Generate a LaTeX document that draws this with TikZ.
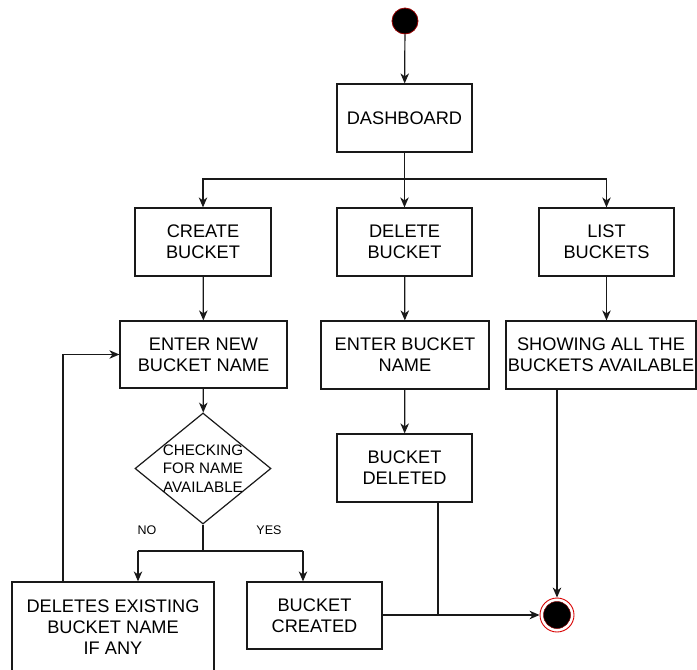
\documentclass[tikz,border=0pt]{standalone}
\usepackage{fontspec}
\setmainfont{Liberation Sans}
\usepackage{tikz}
\usetikzlibrary{shapes.geometric, arrows.meta, calc}

\begin{document}
\begin{tikzpicture}[
    x=1pt, y=-1pt,
    font=\fontsize{18.2}{21}\selectfont,
    box/.style={draw=black!90, line width=1.2pt, minimum width=135pt, minimum height=68pt, inner sep=0pt, align=center},
    decision/.style={diamond, draw=black!90, line width=1.2pt, minimum width=136pt, minimum height=111pt, inner sep=0pt},
    startstate/.style={circle, fill=black, draw=red!60!black, line width=0.8pt, minimum size=26pt, inner sep=0pt},
    endstate/.style={circle, fill=white, draw=red!85!black, line width=0.9pt, minimum size=34pt, inner sep=0pt},
    lbl/.style={font=\fontsize{12.5}{14}\selectfont},
    line/.style={draw=black!90, line width=1.2pt},
    arr/.style={line, -{Stealth[length=10pt,width=8.5pt,inset=3pt]}}
]
    \useasboundingbox (0,0) rectangle (697,670);

    % states
    \node[startstate] (start) at (405,21) {};
    \node[endstate] (endc) at (557,615) {};
    \fill[black, draw=red!50!black, line width=0.5pt] (endc.center) circle (13.5);

    % main boxes
    \node[box] (dash) at (404.5,118) {DASHBOARD};
    \node[box, minimum width=136pt] (create) at (203,242) {CREATE\\BUCKET};
    \node[box] (delete) at (404.5,242) {DELETE\\BUCKET};
    \node[box] (list) at (606.5,242) {LIST\\BUCKETS};
    \node[box, minimum width=167pt, minimum height=67pt] (enternew) at (203.5,354.5) {ENTER NEW\\BUCKET NAME};
    \node[box, minimum width=168pt] (entername) at (405,355) {ENTER BUCKET\\NAME};
    \node[box, minimum width=190pt] (showing) at (601,355) {SHOWING ALL THE\\BUCKETS AVAILABLE};
    \node[decision, label={[font=\fontsize{15.2}{18.5}\selectfont, align=center]center:{CHECKING\\FOR NAME\\AVAILABLE}}] (check) at (203,468.5) {};
    \node[box] (deleted) at (404.5,468) {BUCKET\\DELETED};
    \node[box, minimum width=202pt, minimum height=90pt] (deletes) at (113,627) {DELETES EXISTING\\BUCKET NAME\\IF ANY};
    \node[box, minimum height=67pt] (created) at (314.5,615.5) {BUCKET\\CREATED};

    \node[lbl] (no) at (147,530) {NO};
    \node[lbl] (yes) at (269,530) {YES};

    % joints
    \coordinate (fork) at (404.5,179);
    \coordinate (split) at (203,551);
    \coordinate (noin) at (138,551);
    \coordinate (yesin) at (303,551);
    \coordinate (loop) at (63,354.5);
    \coordinate (join) at (438,615);

    % connectors
    \draw[arr] (start) -- (dash);
    \draw[line] (dash) -- (fork);
    \draw[arr] (fork) -| (create);
    \draw[arr] (fork) -- (delete);
    \draw[arr] (fork) -| (list);
    \draw[arr] (create) -- (enternew);
    \draw[arr] (delete) -- (entername);
    \draw[arr] (list) -- (list |- showing.north);
    \draw[arr] (enternew) -- (check);
    \draw[arr] (entername) -- (deleted);
    \draw[line] (check) -- (split);
    \draw[line] (noin) -- (yesin);
    \draw[arr] (noin) -- (noin |- deletes.north);
    \draw[arr] (yesin) -- (yesin |- created.north);
    \draw[arr] (loop |- deletes.north) -- (loop) -- (enternew.west);
    \draw[line] (deleted.south -| join) -- (join);
    \draw[arr] (created.east |- join) -- (endc.west);
    \draw[arr] (showing.south -| endc) -- (endc.north);
\end{tikzpicture}
\end{document}
